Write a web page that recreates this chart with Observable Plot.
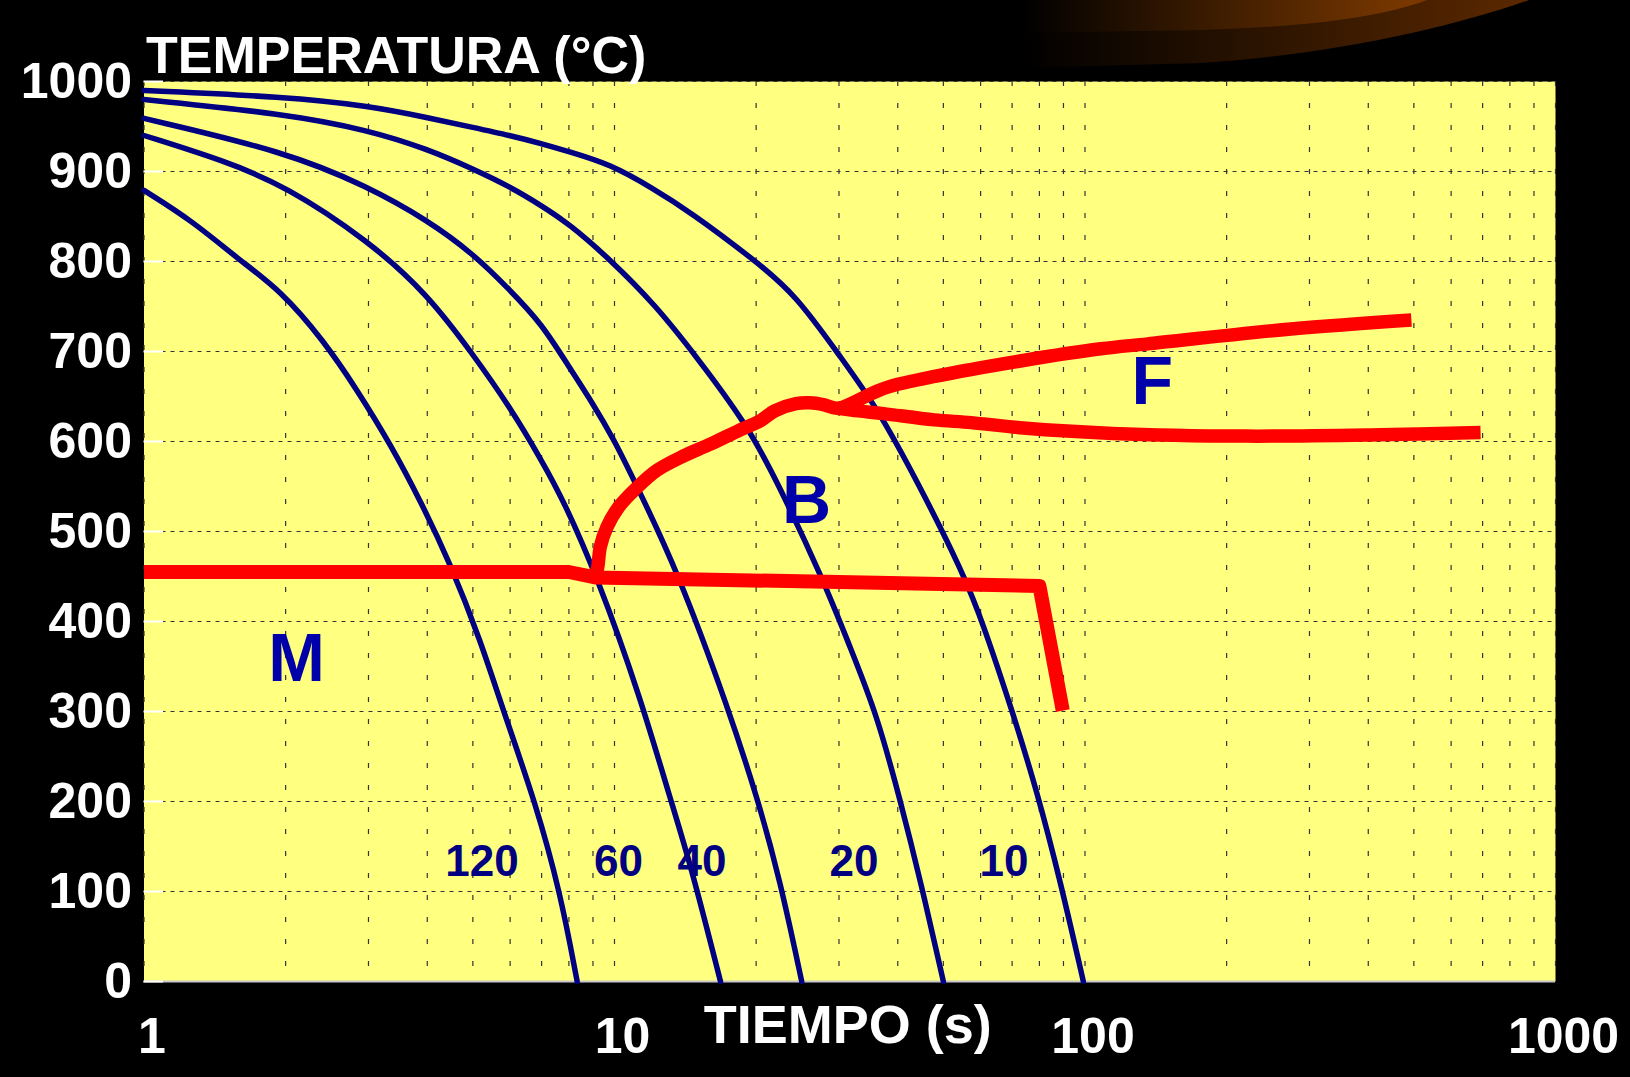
<!DOCTYPE html>
<html>
<head>
<meta charset="utf-8">
<script src="https://cdn.jsdelivr.net/npm/d3@7"></script>
<script src="https://cdn.jsdelivr.net/npm/@observablehq/plot@0.6"></script>
<style>
  html, body { margin: 0; padding: 0; background: #000; overflow: hidden; }
  #wrap { position: relative; width: 1630px; height: 1077px; }
  #deco { position: absolute; left: 0; top: 0; }
  #chart { position: absolute; left: 0; top: 0; }
</style>
</head>
<body>
<div id="wrap">
  <svg id="deco" width="1630" height="1077">
    <defs>
      <linearGradient id="gOuter" gradientUnits="userSpaceOnUse" x1="1020" y1="0" x2="1520" y2="0">
        <stop offset="0" stop-color="#000"/>
        <stop offset="1" stop-color="#5a2800"/>
      </linearGradient>
      <linearGradient id="gInner" gradientUnits="userSpaceOnUse" x1="1020" y1="0" x2="1410" y2="0">
        <stop offset="0" stop-color="#000"/>
        <stop offset="1" stop-color="#7a3800"/>
      </linearGradient>
    </defs>
    <path d="M1022,0 L1529,0 C1450,28 1330,55 1200,63 L1022,68 Z" fill="url(#gOuter)"/>
    <path d="M1022,0 L1427,0 C1380,18 1300,27 1200,30 L1022,33 Z" fill="url(#gInner)"/>
  </svg>
  <div id="chart"></div>
</div>
<script>
// ---- Axis ticks ----
const xTicks = [1, 10, 100, 1000];
const yTicks = [0, 100, 200, 300, 400, 500, 600, 700, 800, 900, 1000];
const xGrid = [1, 2, 3, 4, 5, 6, 7, 8, 9, 10, 20, 30, 40, 50, 60, 70, 80, 90, 100, 200, 300, 400, 500, 600, 700, 800, 900, 1000];

// ---- Cooling curves (time s, temperature °C) ----
const rates = ["10", "20", "40", "60", "120"];
const c10_t = [1, 2, 3, 4, 5, 6, 7, 8, 9.8, 12, 14.5, 19.8, 24.3, 30.3, 36, 43.9, 55.2, 60.8, 70.4, 79, 88.6, 99.2];
const c10_T = [990, 983, 973, 960, 949, 940, 931, 922, 908, 882, 855, 802, 763, 693, 639, 557, 453, 397, 297, 212, 112, 0];
const c20_t = [1, 2, 3, 4, 5, 6, 7, 8, 9.8, 12.2, 15, 19.1, 22.1, 27.8, 31.7, 36.1, 40.5, 44.7, 50];
const c20_T = [980, 964, 946, 925, 903, 883, 862, 842, 802, 752, 693, 619, 557, 446, 371, 297, 201, 112, 0];
const c40_t = [1, 2, 3, 4, 5, 6, 7, 8, 9, 10, 11, 13.6, 17.5, 20.2, 22.5, 25];
const c40_T = [959, 922, 883, 846, 809, 768, 731, 683, 642, 601, 557, 457, 302, 201, 112, 0];
const c60_t = [1, 1.48, 2, 3, 4, 5, 6, 7, 7.8, 9.2, 11.35, 13.1, 14.5, 16.8];
const c60_T = [940, 912, 884, 823, 764, 697, 638, 579, 534, 449, 316, 205, 131, 0];
const c120_t = [1, 1.26, 1.6, 1.95, 2.41, 2.84, 3.34, 3.87, 4.48, 5.19, 5.81, 6.79, 7.67, 8.33];
const c120_T = [879, 846, 801, 768, 712, 657, 597, 534, 464, 379, 300, 199, 99, 0];

// ---- Transformation lines (red) ----
const m_t = [1, 8, 9.1, 80, 89.7];
const m_T = [455, 455, 449, 439.5, 301];
const bf_t = [9.1, 9.21, 9.33, 9.64, 10.2, 11.07, 12.31, 14.03, 15.98, 18.5, 20.4, 21.9, 24.3, 26, 27.8, 29.8, 35.4, 38.4, 47.6, 73.9, 108, 136, 274, 494];
const bf_T = [451, 460, 483, 505, 527, 547, 568, 584, 597, 613, 623, 634, 642, 643, 641, 637, 654, 661, 672, 690, 703, 708.5, 725, 735];
const f2_t = [29.8, 33, 37.3, 47.8, 57.3, 73.9, 114.5, 220, 424, 693];
const f2_T = [637, 634, 631, 624, 621, 615, 609, 606, 607.5, 610];

// ---- Labels ----
const rateLabels = ["120", "60", "40", "20", "10"];
const rateLabelT = [5.23, 10.2, 15.35, 32.3, 67.3];
const rateLabelTemp = 133;
const phaseLabels = ["M", "B", "F"];
const phaseT = [2.11, 25.6, 139];
const phaseTemp = [358, 534, 666];
const yTitle = "TEMPERATURA (°C)";
const xTitle = "TIEMPO (s)";

// ---- Build tables ----
const curveSets = [[c10_t, c10_T], [c20_t, c20_T], [c40_t, c40_T], [c60_t, c60_T], [c120_t, c120_T]];
const cooling = rates.flatMap((r, i) => curveSets[i][0].map((t, j) => ({rate: r, t, T: curveSets[i][1][j]})));
const mLine = m_t.map((t, j) => ({t, T: m_T[j]}));
const bfLine = bf_t.map((t, j) => ({t, T: bf_T[j]}));
const f2Line = f2_t.map((t, j) => ({t, T: f2_T[j]}));
const rateLab = rateLabels.map((s, i) => ({s, t: rateLabelT[i], T: rateLabelTemp}));
const phaseLab = phaseLabels.map((s, i) => ({s, t: phaseT[i], T: phaseTemp[i]}));

const font = "'Liberation Sans', Arial, sans-serif";

const chart = Plot.plot({
  width: 1630,
  height: 1077,
  marginLeft: 143.5,
  marginRight: 75,
  marginTop: 81,
  marginBottom: 96,
  style: {background: "transparent", color: "white", fontFamily: font},
  x: {type: "log", domain: [1, 1000], label: null},
  y: {domain: [0, 1000], label: null},
  marks: [
    Plot.frame({fill: "#ffff80", stroke: null}),
    Plot.ruleX(xGrid, {stroke: "#333", strokeWidth: 1.2, strokeDasharray: "5,17"}),
    Plot.ruleY(yTicks, {stroke: "#333", strokeWidth: 1.2, strokeDasharray: "4,5"}),
    Plot.ruleY([0], {stroke: "#c8c8c8", strokeWidth: 2}),
    Plot.ruleY(yTicks, {x1: 1, x2: 1.1, stroke: "white", strokeWidth: 2}),
    Plot.line(cooling, {x: "t", y: "T", z: "rate", stroke: "#000080", strokeWidth: 5.5, curve: "basis"}),
    Plot.line(mLine, {x: "t", y: "T", stroke: "#ff0000", strokeWidth: 14, curve: "linear", strokeLinejoin: "round", strokeLinecap: "butt"}),
    Plot.line(bfLine, {x: "t", y: "T", stroke: "#ff0000", strokeWidth: 13.5, curve: "catmull-rom", strokeLinejoin: "round", strokeLinecap: "butt"}),
    Plot.line(f2Line, {x: "t", y: "T", stroke: "#ff0000", strokeWidth: 13.5, curve: "catmull-rom", strokeLinejoin: "round", strokeLinecap: "butt"}),
    Plot.text(rateLab, {x: "t", y: "T", text: "s", fill: "#000080", fontSize: 44, fontWeight: "bold"}),
    Plot.text(phaseLab, {x: "t", y: "T", text: "s", fill: "#0000aa", fontSize: 68, fontWeight: "bold"}),
    Plot.axisX({ticks: xTicks, tickFormat: d => String(d), tickSize: 0, tickPadding: 36, fontSize: 50, fontWeight: "bold", dx: 8, fill: "white"}),
    Plot.axisY({ticks: yTicks, tickFormat: d => String(d), tickSize: 0, tickPadding: 12, fontSize: 50, fontWeight: "bold", fill: "white"}),
    Plot.text([yTitle], {text: d => d, frameAnchor: "top-left", textAnchor: "start", dx: 2, dy: -45, fill: "white", fontSize: 52, fontWeight: "bold"}),
    Plot.text([xTitle], {text: d => d, frameAnchor: "bottom", dx: -2, dy: 61, fill: "white", fontSize: 54, fontWeight: "bold"})
  ]
});
document.getElementById("chart").appendChild(chart);
</script>
</body>
</html>
